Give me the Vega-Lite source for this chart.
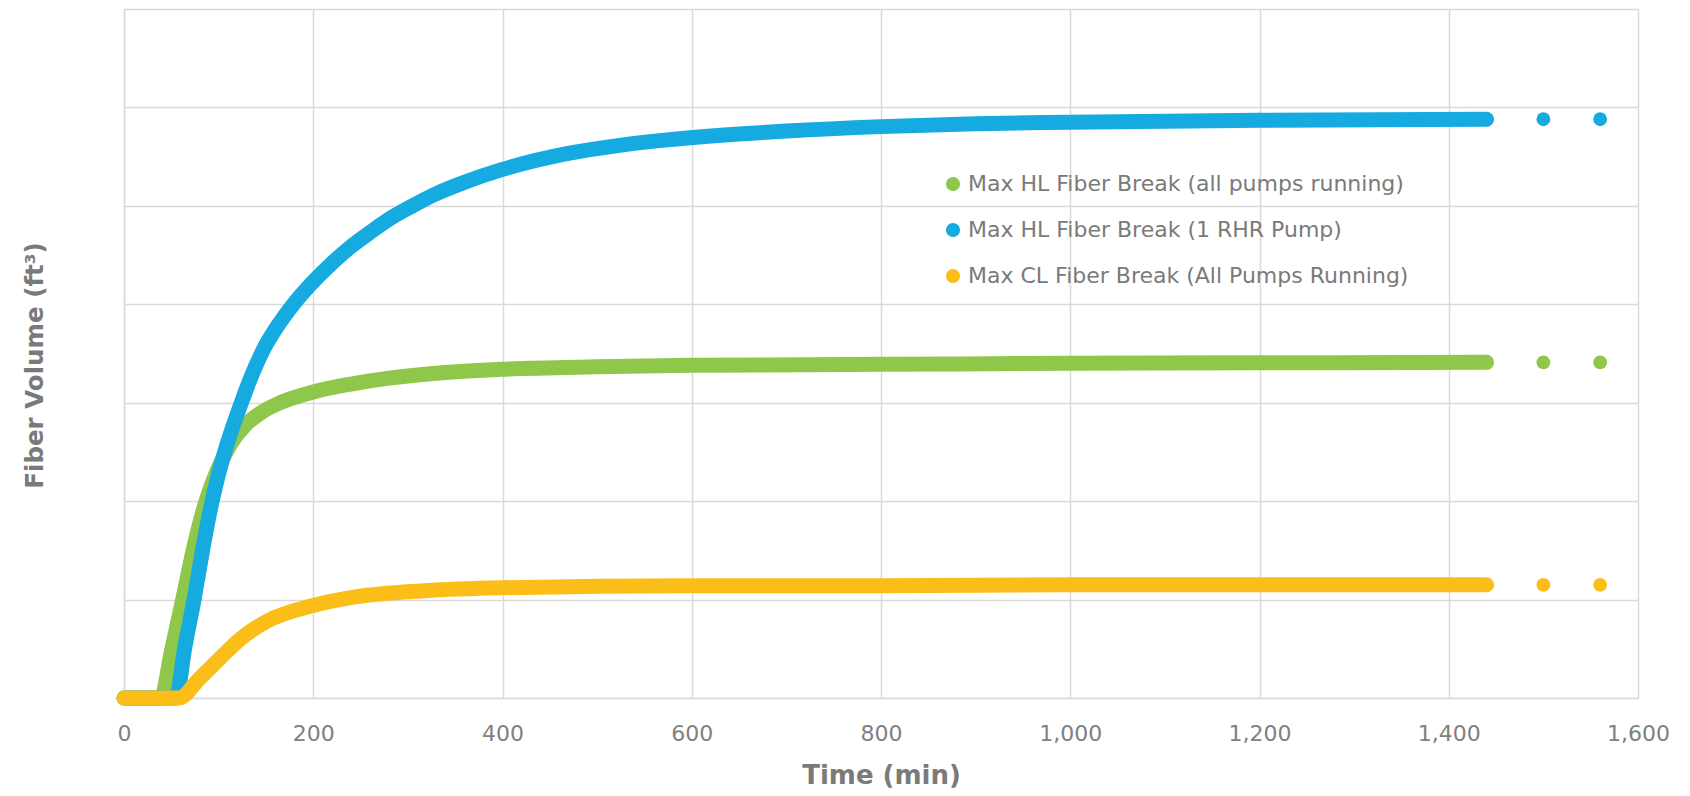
{
  "$schema": "https://vega.github.io/schema/vega-lite/v6.json",
  "width": 1514,
  "height": 689,
  "autosize": {"type": "none"},
  "padding": {"left": 124, "top": 9, "right": 52, "bottom": 98},
  "background": "white",
  "config": {
    "font": "DejaVu Sans",
    "view": {"stroke": null},
    "axis": {"gridColor": "#d9d9d9", "gridWidth": 1.5, "domainColor": "#d9d9d9", "domainWidth": 1.5, "ticks": false, "labelColor": "#808080", "titleColor": "#7a7a7a"}
  },
  "datasets": {
    "curves": [
      {"series": "Max HL Fiber Break (all pumps running)", "t": 0, "v": 0},
      {"series": "Max HL Fiber Break (all pumps running)", "t": 39, "v": 0},
      {"series": "Max HL Fiber Break (all pumps running)", "t": 50, "v": 0.47},
      {"series": "Max HL Fiber Break (all pumps running)", "t": 62, "v": 1.0},
      {"series": "Max HL Fiber Break (all pumps running)", "t": 75, "v": 1.58},
      {"series": "Max HL Fiber Break (all pumps running)", "t": 86, "v": 1.98},
      {"series": "Max HL Fiber Break (all pumps running)", "t": 98, "v": 2.3},
      {"series": "Max HL Fiber Break (all pumps running)", "t": 112, "v": 2.57},
      {"series": "Max HL Fiber Break (all pumps running)", "t": 128, "v": 2.77},
      {"series": "Max HL Fiber Break (all pumps running)", "t": 145, "v": 2.9},
      {"series": "Max HL Fiber Break (all pumps running)", "t": 165, "v": 3.0},
      {"series": "Max HL Fiber Break (all pumps running)", "t": 200, "v": 3.11},
      {"series": "Max HL Fiber Break (all pumps running)", "t": 240, "v": 3.19},
      {"series": "Max HL Fiber Break (all pumps running)", "t": 280, "v": 3.25},
      {"series": "Max HL Fiber Break (all pumps running)", "t": 330, "v": 3.30},
      {"series": "Max HL Fiber Break (all pumps running)", "t": 400, "v": 3.34},
      {"series": "Max HL Fiber Break (all pumps running)", "t": 500, "v": 3.365},
      {"series": "Max HL Fiber Break (all pumps running)", "t": 600, "v": 3.38},
      {"series": "Max HL Fiber Break (all pumps running)", "t": 800, "v": 3.39},
      {"series": "Max HL Fiber Break (all pumps running)", "t": 1000, "v": 3.40},
      {"series": "Max HL Fiber Break (all pumps running)", "t": 1200, "v": 3.405},
      {"series": "Max HL Fiber Break (all pumps running)", "t": 1440, "v": 3.41},
      {"series": "Max HL Fiber Break (1 RHR Pump)", "t": 0, "v": 0},
      {"series": "Max HL Fiber Break (1 RHR Pump)", "t": 55, "v": 0},
      {"series": "Max HL Fiber Break (1 RHR Pump)", "t": 64, "v": 0.5},
      {"series": "Max HL Fiber Break (1 RHR Pump)", "t": 74, "v": 1.0},
      {"series": "Max HL Fiber Break (1 RHR Pump)", "t": 83, "v": 1.5},
      {"series": "Max HL Fiber Break (1 RHR Pump)", "t": 92, "v": 1.95},
      {"series": "Max HL Fiber Break (1 RHR Pump)", "t": 100, "v": 2.28},
      {"series": "Max HL Fiber Break (1 RHR Pump)", "t": 109, "v": 2.58},
      {"series": "Max HL Fiber Break (1 RHR Pump)", "t": 124, "v": 3.0},
      {"series": "Max HL Fiber Break (1 RHR Pump)", "t": 133, "v": 3.23},
      {"series": "Max HL Fiber Break (1 RHR Pump)", "t": 149, "v": 3.57},
      {"series": "Max HL Fiber Break (1 RHR Pump)", "t": 163, "v": 3.79},
      {"series": "Max HL Fiber Break (1 RHR Pump)", "t": 179, "v": 4.0},
      {"series": "Max HL Fiber Break (1 RHR Pump)", "t": 200, "v": 4.23},
      {"series": "Max HL Fiber Break (1 RHR Pump)", "t": 220, "v": 4.42},
      {"series": "Max HL Fiber Break (1 RHR Pump)", "t": 239, "v": 4.58},
      {"series": "Max HL Fiber Break (1 RHR Pump)", "t": 260, "v": 4.73},
      {"series": "Max HL Fiber Break (1 RHR Pump)", "t": 281, "v": 4.87},
      {"series": "Max HL Fiber Break (1 RHR Pump)", "t": 305, "v": 5.0},
      {"series": "Max HL Fiber Break (1 RHR Pump)", "t": 327, "v": 5.11},
      {"series": "Max HL Fiber Break (1 RHR Pump)", "t": 360, "v": 5.24},
      {"series": "Max HL Fiber Break (1 RHR Pump)", "t": 400, "v": 5.37},
      {"series": "Max HL Fiber Break (1 RHR Pump)", "t": 468, "v": 5.53},
      {"series": "Max HL Fiber Break (1 RHR Pump)", "t": 520, "v": 5.61},
      {"series": "Max HL Fiber Break (1 RHR Pump)", "t": 574, "v": 5.67},
      {"series": "Max HL Fiber Break (1 RHR Pump)", "t": 650, "v": 5.73},
      {"series": "Max HL Fiber Break (1 RHR Pump)", "t": 700, "v": 5.76},
      {"series": "Max HL Fiber Break (1 RHR Pump)", "t": 800, "v": 5.805},
      {"series": "Max HL Fiber Break (1 RHR Pump)", "t": 900, "v": 5.835},
      {"series": "Max HL Fiber Break (1 RHR Pump)", "t": 1000, "v": 5.85},
      {"series": "Max HL Fiber Break (1 RHR Pump)", "t": 1200, "v": 5.87},
      {"series": "Max HL Fiber Break (1 RHR Pump)", "t": 1440, "v": 5.88},
      {"series": "Max CL Fiber Break (All Pumps Running)", "t": 0, "v": 0},
      {"series": "Max CL Fiber Break (All Pumps Running)", "t": 58, "v": 0},
      {"series": "Max CL Fiber Break (All Pumps Running)", "t": 80, "v": 0.2},
      {"series": "Max CL Fiber Break (All Pumps Running)", "t": 99, "v": 0.38},
      {"series": "Max CL Fiber Break (All Pumps Running)", "t": 123, "v": 0.6},
      {"series": "Max CL Fiber Break (All Pumps Running)", "t": 151, "v": 0.78},
      {"series": "Max CL Fiber Break (All Pumps Running)", "t": 200, "v": 0.94},
      {"series": "Max CL Fiber Break (All Pumps Running)", "t": 246, "v": 1.03},
      {"series": "Max CL Fiber Break (All Pumps Running)", "t": 317, "v": 1.09},
      {"series": "Max CL Fiber Break (All Pumps Running)", "t": 400, "v": 1.12},
      {"series": "Max CL Fiber Break (All Pumps Running)", "t": 600, "v": 1.14},
      {"series": "Max CL Fiber Break (All Pumps Running)", "t": 800, "v": 1.14},
      {"series": "Max CL Fiber Break (All Pumps Running)", "t": 1000, "v": 1.15},
      {"series": "Max CL Fiber Break (All Pumps Running)", "t": 1200, "v": 1.15},
      {"series": "Max CL Fiber Break (All Pumps Running)", "t": 1440, "v": 1.15}
    ],
    "dots": [
      {"series": "Max HL Fiber Break (all pumps running)", "t": 1500, "v": 3.41},
      {"series": "Max HL Fiber Break (all pumps running)", "t": 1560, "v": 3.41},
      {"series": "Max HL Fiber Break (1 RHR Pump)", "t": 1500, "v": 5.88},
      {"series": "Max HL Fiber Break (1 RHR Pump)", "t": 1560, "v": 5.88},
      {"series": "Max CL Fiber Break (All Pumps Running)", "t": 1500, "v": 1.15},
      {"series": "Max CL Fiber Break (All Pumps Running)", "t": 1560, "v": 1.15}
    ]
  },
  "layer": [
    {
      "data": {"name": "dots"},
      "mark": {"type": "circle", "size": 190, "opacity": 1},
      "encoding": {
        "x": {"field": "t", "type": "quantitative", "scale": {"domain": [0, 1600], "nice": false},
          "axis": {"values": [0, 200, 400, 600, 800, 1000, 1200, 1400, 1600], "format": ",d", "labelFlush": false, "labelFontSize": 22, "labelPadding": 25, "title": "Time (min)", "titleFontSize": 26, "titleFontWeight": "bold", "titlePadding": 18}},
        "y": {"field": "v", "type": "quantitative", "scale": {"domain": [0, 7], "nice": false},
          "axis": {"values": [0, 1, 2, 3, 4, 5, 6, 7], "labels": false, "title": "Fiber Volume (ft³)", "titleFontSize": 24.5, "titleFontWeight": "bold", "titlePadding": 77, "titleY": 356}},
        "color": {"field": "series", "type": "nominal",
          "scale": {"domain": ["Max HL Fiber Break (all pumps running)", "Max HL Fiber Break (1 RHR Pump)", "Max CL Fiber Break (All Pumps Running)"], "range": ["#8fc74a", "#15aae0", "#fbbd17"]},
          "legend": {"title": null, "orient": "none", "legendX": 818, "legendY": 164, "symbolType": "circle", "symbolSize": 160, "labelFontSize": 22, "labelColor": "#7a7a7a", "rowPadding": 24, "labelOffset": 4, "labelLimit": 700}}
      }
    },
    {
      "data": {"name": "curves"},
      "mark": {"type": "line", "strokeWidth": 15, "strokeCap": "round", "strokeJoin": "round", "interpolate": "monotone"},
      "encoding": {
        "x": {"field": "t", "type": "quantitative"},
        "y": {"field": "v", "type": "quantitative"},
        "color": {"field": "series", "type": "nominal"},
        "order": {"field": "t"}
      }
    }
  ]
}
